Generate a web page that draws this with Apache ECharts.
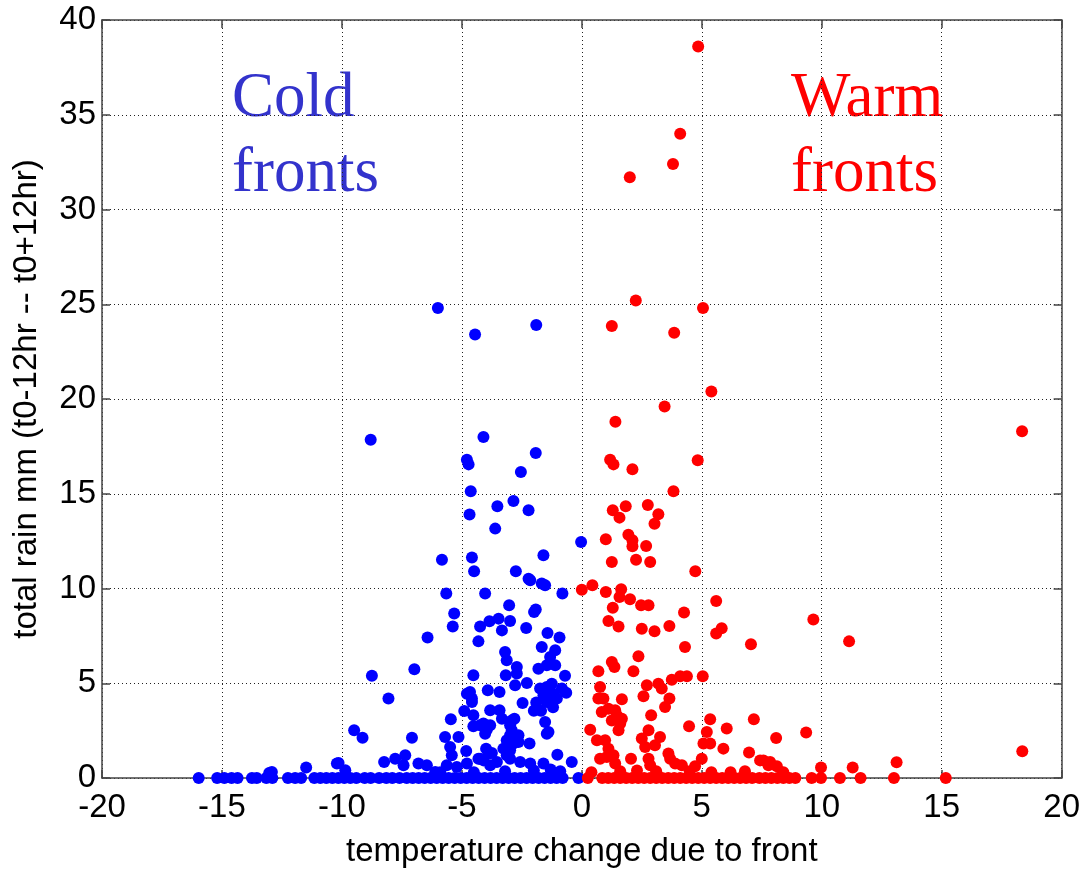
<!DOCTYPE html>
<html>
<head>
<meta charset="utf-8">
<script src="https://cdn.jsdelivr.net/npm/echarts@6/dist/echarts.min.js"></script>
<style>
  html, body { margin: 0; padding: 0; background: #fff; }
  #chart { width: 1083px; height: 873px; }
</style>
</head>
<body>
<div id="chart"></div>
<script>
// Axis ranges and tick spacing
const tempMin = -20, tempMax = 20, tempStep = 5;
const rainMin = 0, rainMax = 40, rainStep = 5;

// Cold fronts: [temperature change, total rain mm] with rain above zero
const coldRain = [
  [-6.0,24.8],[-4.45,23.4],[-1.9,23.9],[-8.8,17.85],[-4.1,18.0],[-4.79,16.8],[-4.72,16.55],
  [-1.92,17.15],[-2.54,16.15],[-4.63,15.13],[-2.85,14.62],[-3.52,14.34],[-2.22,14.13],[-4.68,13.9],
  [-3.61,13.16],[-5.83,11.52],[-4.58,11.63],[-4.49,10.91],[-2.75,10.91],[-2.22,10.52],[-2.15,10.43],
  [-1.67,10.26],[-1.53,10.17],[-0.03,12.45],[-1.6,11.75],[-0.81,9.73],[-5.65,9.73],[-4.03,9.73],
  [-3.03,9.11],[-1.99,8.76],[-1.92,8.89],[-5.32,8.68],[-5.38,8.0],[-4.24,8.0],[-3.85,8.27],
  [-3.47,8.41],[-2.99,8.28],[-3.33,7.79],[-2.32,7.92],[-6.43,7.41],[-4.31,7.21],[-1.43,7.65],
  [-0.93,7.41],[-1.67,6.91],[-1.11,6.74],[-1.32,6.39],[-1.11,5.95],[-1.81,5.77],[-1.46,5.95],
  [-3.2,6.65],[-3.13,6.21],[-2.71,5.86],[-3.17,5.42],[-2.71,5.51],[-6.98,5.74],[-8.75,5.4],
  [-4.52,5.42],[-2.29,5.01],[-2.78,4.89],[-0.7,5.4],[-0.83,4.72],[-0.65,4.5],[-1.74,4.72],
  [-1.46,4.8],[-1.25,4.98],[-1.6,4.36],[-1.18,4.45],[-1.04,4.19],[-1.46,4.01],[-1.9,3.99],
  [-1.7,3.55],[-2.0,3.55],[-1.2,3.73],[-1.88,3.61],[-4.66,4.54],[-4.58,4.19],[-4.79,4.45],
  [-4.58,4.01],[-4.9,3.54],[-4.52,3.31],[-3.92,4.63],[-3.43,4.54],[-8.06,4.19],[-2.47,3.96],
  [-3.82,3.57],[-3.43,3.57],[-3.33,3.13],[-2.92,3.04],[-2.81,3.13],[-2.99,2.78],[-5.46,3.1],
  [-1.53,2.95],[-1.46,2.34],[-1.39,2.43],[-4.52,2.73],[-4.1,2.87],[-3.82,2.78],[-4.03,2.34],
  [-3.96,2.55],[-4.24,2.78],[-2.92,2.52],[-2.64,2.25],[-2.85,1.82],[-3.13,1.99],[-3.27,1.55],
  [-2.99,2.25],[-2.64,1.9],[-2.99,1.46],[-3.13,1.2],[-2.18,1.82],[-9.49,2.52],[-9.14,2.13],
  [-7.08,2.13],[-5.7,2.16],[-5.14,2.16],[-5.49,1.64],[-5.42,1.2],[-4.82,1.42],[-3.99,1.55],
  [-3.75,1.32],[-4.24,1.02],[-3.89,1.29],[-1.02,1.23],[-0.42,0.84],[-10.14,0.79],[-8.24,0.84],
  [-7.78,1.02],[-7.36,1.2],[-7.43,0.67],[-11.49,0.55],[-9.86,0.41],[-13.03,0.26],[-12.92,0.32],
  [-10.21,0.76],[-6.81,0.76],[-6.46,0.67],[-6.11,0.32],[-5.63,0.67],[-5.21,0.58],[-4.79,0.76],
  [-4.31,1.02],[-4.1,0.93],[-3.82,0.67],[-3.54,0.84],[-2.99,1.02],[-2.57,0.84],[-2.15,0.76],
  [-1.6,0.76],[-1.3,0.45],[-0.9,0.35],[-2.0,0.4],[-3.2,0.35],[-4.5,0.3],[-5.9,0.3]
];

// Cold fronts with no rain: temperature change only
const coldDry = [
  -15.97,-15.2,-14.9,-14.6,-14.35,-13.75,-13.55,-13.15,-12.9,-12.25,-11.95,-11.7,-11.15,-10.9,
  -10.65,-10.4,-10.15,-9.9,-9.65,-9.4,-9.05,-8.8,-8.45,-8.15,-7.9,-7.6,-7.3,-7.05,-6.8,-6.55,
  -6.3,-6.05,-5.8,-5.55,-5.3,-5.05,-4.8,-4.55,-4.3,-4.05,-3.8,-3.55,-3.3,-3.05,-2.8,-2.55,
  -2.3,-2.05,-1.8,-1.55,-1.3,-1.05,-0.8,-0.14
];

// Warm fronts: [temperature change, total rain mm] with rain above zero
const warmRain = [
  [4.85,38.6],[4.1,34.0],[3.8,32.4],[2.0,31.7],[2.25,25.2],[5.05,24.8],[1.25,23.85],[3.85,23.5],
  [5.4,20.4],[3.45,19.6],[1.4,18.8],[18.35,18.3],[1.18,16.8],[1.32,16.55],[4.83,16.77],[2.11,16.29],
  [3.82,15.13],[1.29,14.13],[1.57,13.74],[1.83,14.34],[2.75,14.41],[3.19,13.92],[3.03,13.42],
  [1.0,12.6],[1.94,12.84],[2.11,12.54],[2.11,12.23],[2.68,12.24],[1.25,11.4],[2.26,11.52],
  [2.85,11.4],[4.73,10.91],[0.0,9.94],[0.44,10.17],[1.0,9.82],[1.64,9.96],[1.57,9.55],[2.01,9.43],
  [1.29,8.99],[2.47,9.11],[2.78,9.11],[5.6,9.34],[1.11,8.28],[1.53,8.0],[2.5,7.88],[3.03,7.74],
  [3.65,8.02],[4.26,8.73],[5.6,7.62],[5.83,7.9],[7.05,7.06],[9.65,8.36],[11.14,7.21],[4.3,6.91],
  [2.36,6.42],[1.25,6.12],[1.36,5.86],[0.69,5.63],[2.15,5.63],[5.04,5.37],[3.75,5.19],[4.1,5.37],
  [4.38,5.37],[2.71,4.89],[3.19,4.98],[3.33,4.72],[0.76,4.8],[0.69,4.19],[0.9,4.19],[2.57,4.31],
  [3.65,4.19],[3.47,3.75],[1.67,4.15],[0.83,3.48],[1.11,3.66],[1.39,3.57],[1.46,3.31],[1.67,3.13],
  [1.25,3.04],[1.6,2.87],[1.53,2.52],[0.35,2.55],[2.89,3.31],[4.47,2.73],[5.35,3.1],[6.04,2.61],
  [7.17,3.1],[2.78,2.52],[2.5,2.08],[2.64,1.64],[3.05,1.73],[3.26,2.16],[5.21,2.43],[5.07,1.82],
  [5.35,1.82],[5.9,1.55],[6.97,1.34],[8.1,2.11],[9.35,2.4],[0.63,1.99],[0.97,1.99],[1.11,1.55],
  [0.76,1.02],[1.04,1.11],[1.32,1.2],[1.39,0.76],[2.05,1.02],[2.78,1.02],[2.85,0.67],[3.61,1.29],
  [3.68,1.02],[3.89,0.76],[4.17,0.67],[5.0,1.02],[4.72,0.62],[7.43,0.93],[7.78,0.67],[7.57,0.93],
  [7.85,0.84],[8.13,0.62],[9.97,0.55],[11.29,0.55],[13.12,0.83],[18.36,1.41],
  [1.6,0.35],[2.3,0.4],[3.1,0.35],[4.5,0.35],[5.4,0.3],[6.2,0.3],[6.8,0.35],[8.4,0.3],[0.4,0.3]
];

// Warm fronts with no rain: temperature change only
const warmDry = [
  0.25,0.85,1.1,1.35,1.6,1.85,2.1,2.35,2.6,2.85,3.1,3.35,3.6,3.85,4.1,4.35,4.6,4.85,5.1,5.35,
  5.6,5.85,6.1,6.35,6.6,6.85,7.1,7.4,7.65,7.9,8.15,8.4,8.65,8.9,9.58,9.97,10.76,11.62,13.01,15.17
];

const coldColor = '#0000ff';
const warmColor = '#ff0000';
const frameColor = '#444';
const textFont = 'Liberation Sans';
const textSize = 33;

const coldData = coldDry.map(t => [t, 0]).concat(coldRain);
const warmData = warmDry.map(t => [t, 0]).concat(warmRain);

const chart = echarts.init(document.getElementById('chart'), null, { renderer: 'canvas' });

const dotted = { color: '#222', width: 1, type: [1, 3] };

function frameAxis(extra) {
  return Object.assign({
    type: 'value',
    axisLine: { show: true, onZero: false, lineStyle: { color: frameColor, width: 1.5 } },
    axisTick: { show: true, inside: true, length: 8, lineStyle: { color: frameColor, width: 1.5 } },
    splitLine: { show: false },
    axisLabel: { show: false }
  }, extra);
}

chart.setOption({
  animation: false,
  backgroundColor: '#fff',
  grid: { left: 102, right: 21, top: 20, bottom: 95, containLabel: false },
  xAxis: [
    frameAxis({
      min: tempMin, max: tempMax, interval: tempStep, position: 'bottom',
      name: 'temperature change due to front',
      nameLocation: 'middle', nameGap: 57,
      nameTextStyle: { fontFamily: textFont, fontSize: textSize, color: '#000' },
      axisLabel: { show: true, margin: 13, fontFamily: textFont, fontSize: textSize, color: '#000' },
      splitLine: { show: true, lineStyle: dotted }
    }),
    frameAxis({ min: tempMin, max: tempMax, interval: tempStep, position: 'top' })
  ],
  yAxis: [
    frameAxis({
      min: rainMin, max: rainMax, interval: rainStep, position: 'left',
      name: 'total rain mm (t0-12hr -- t0+12hr)',
      nameLocation: 'middle', nameGap: 59, nameRotate: 90,
      nameTextStyle: { fontFamily: textFont, fontSize: textSize, color: '#000' },
      axisLabel: { show: true, margin: 6, fontFamily: textFont, fontSize: textSize, color: '#000' },
      splitLine: { show: true, lineStyle: dotted }
    }),
    frameAxis({ min: rainMin, max: rainMax, interval: rainStep, position: 'right' })
  ],
  graphic: [
    { type: 'text', left: 232, top: 68, silent: true,
      style: { text: 'Cold', font: '63px "Liberation Serif"', fill: '#3333cc' } },
    { type: 'text', left: 232, top: 143, silent: true,
      style: { text: 'fronts', font: '63px "Liberation Serif"', fill: '#3333cc' } },
    { type: 'text', left: 791, top: 68, silent: true,
      style: { text: 'Warm', font: '63px "Liberation Serif"', fill: '#ff0000' } },
    { type: 'text', left: 791, top: 143, silent: true,
      style: { text: 'fronts', font: '63px "Liberation Serif"', fill: '#ff0000' } }
  ],
  series: [
    { name: 'Cold fronts', type: 'scatter', data: coldData, symbol: 'circle', symbolSize: 12,
      itemStyle: { color: coldColor, opacity: 1 }, silent: true },
    { name: 'Warm fronts', type: 'scatter', data: warmData, symbol: 'circle', symbolSize: 12,
      itemStyle: { color: warmColor, opacity: 1 }, silent: true }
  ]
});
</script>
</body>
</html>
